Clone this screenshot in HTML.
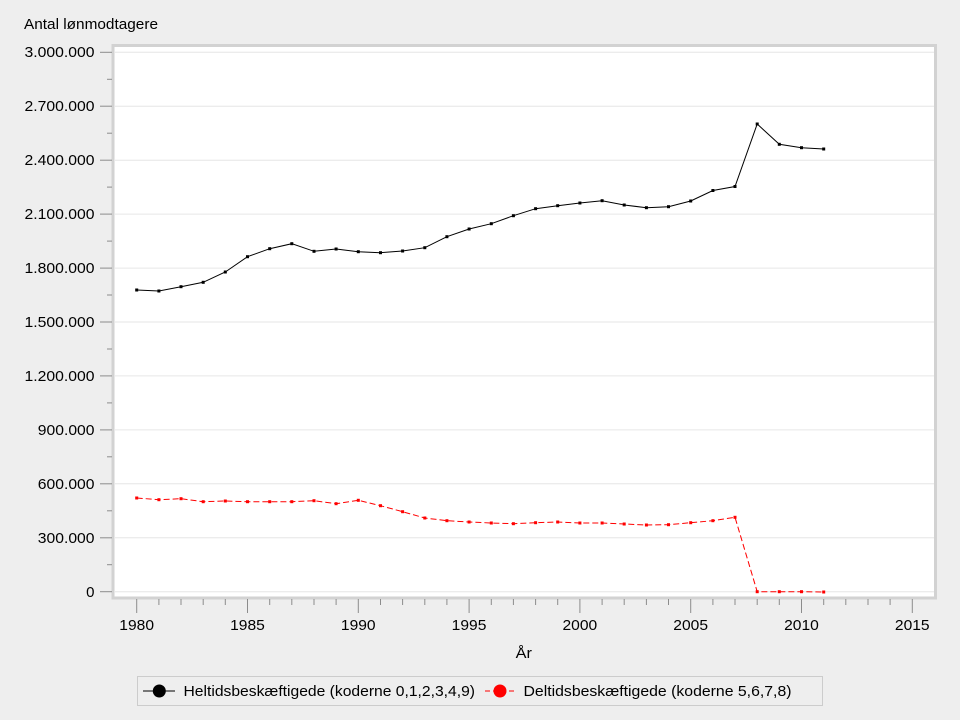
<!DOCTYPE html>
<html><head><meta charset="utf-8"><style>
html,body{margin:0;padding:0;background:#eeeeee;}
svg{display:block;font-family:"Liberation Sans",Arial,sans-serif;}
</style></head><body>
<svg width="960" height="720" viewBox="0 0 960 720" xmlns="http://www.w3.org/2000/svg">
<rect x="0" y="0" width="960" height="720" fill="#eeeeee"/>
<text x="24" y="29" font-size="15" fill="#000" textLength="134" lengthAdjust="spacingAndGlyphs">Antal lønmodtagere</text>
<!-- plot frame -->
<rect x="113" y="45.5" width="822.5" height="552.5" fill="#ffffff" stroke="#d2d2d2" stroke-width="3"/>
<!-- gridlines -->
<g stroke="#e6e6e6" stroke-width="1">
<line x1="115" x2="934" y1="591.7" y2="591.7"/>
<line x1="115" x2="934" y1="537.8" y2="537.8"/>
<line x1="115" x2="934" y1="483.8" y2="483.8"/>
<line x1="115" x2="934" y1="429.9" y2="429.9"/>
<line x1="115" x2="934" y1="375.9" y2="375.9"/>
<line x1="115" x2="934" y1="322.0" y2="322.0"/>
<line x1="115" x2="934" y1="268.1" y2="268.1"/>
<line x1="115" x2="934" y1="214.1" y2="214.1"/>
<line x1="115" x2="934" y1="160.2" y2="160.2"/>
<line x1="115" x2="934" y1="106.2" y2="106.2"/>
<line x1="115" x2="934" y1="52.3" y2="52.3"/>
</g>
<!-- y ticks -->
<g stroke="#8c8c8c" stroke-width="1">
<line x1="100" x2="112" y1="591.7" y2="591.7"/><line x1="107" x2="112" y1="564.7" y2="564.7"/>
<line x1="100" x2="112" y1="537.8" y2="537.8"/><line x1="107" x2="112" y1="510.8" y2="510.8"/>
<line x1="100" x2="112" y1="483.8" y2="483.8"/><line x1="107" x2="112" y1="456.8" y2="456.8"/>
<line x1="100" x2="112" y1="429.9" y2="429.9"/><line x1="107" x2="112" y1="402.9" y2="402.9"/>
<line x1="100" x2="112" y1="375.9" y2="375.9"/><line x1="107" x2="112" y1="349.0" y2="349.0"/>
<line x1="100" x2="112" y1="322.0" y2="322.0"/><line x1="107" x2="112" y1="295.0" y2="295.0"/>
<line x1="100" x2="112" y1="268.1" y2="268.1"/><line x1="107" x2="112" y1="241.1" y2="241.1"/>
<line x1="100" x2="112" y1="214.1" y2="214.1"/><line x1="107" x2="112" y1="187.1" y2="187.1"/>
<line x1="100" x2="112" y1="160.2" y2="160.2"/><line x1="107" x2="112" y1="133.2" y2="133.2"/>
<line x1="100" x2="112" y1="106.2" y2="106.2"/><line x1="107" x2="112" y1="79.3" y2="79.3"/>
<line x1="100" x2="112" y1="52.3" y2="52.3"/>
</g>
<g font-size="15" fill="#000" text-anchor="end">
<text x="94.5" y="597">0</text>
<text x="94.5" y="543" textLength="56.7" lengthAdjust="spacingAndGlyphs">300.000</text>
<text x="94.5" y="489" textLength="56.7" lengthAdjust="spacingAndGlyphs">600.000</text>
<text x="94.5" y="435" textLength="56.7" lengthAdjust="spacingAndGlyphs">900.000</text>
<text x="94.5" y="381" textLength="70" lengthAdjust="spacingAndGlyphs">1.200.000</text>
<text x="94.5" y="327" textLength="70" lengthAdjust="spacingAndGlyphs">1.500.000</text>
<text x="94.5" y="273" textLength="70" lengthAdjust="spacingAndGlyphs">1.800.000</text>
<text x="94.5" y="219" textLength="70" lengthAdjust="spacingAndGlyphs">2.100.000</text>
<text x="94.5" y="165" textLength="70" lengthAdjust="spacingAndGlyphs">2.400.000</text>
<text x="94.5" y="111" textLength="70" lengthAdjust="spacingAndGlyphs">2.700.000</text>
<text x="94.5" y="57" textLength="70" lengthAdjust="spacingAndGlyphs">3.000.000</text>
</g>
<!-- x ticks -->
<g stroke="#8c8c8c" stroke-width="1">
<line x1="136.7" x2="136.7" y1="599" y2="613"/>
<line x1="158.9" x2="158.9" y1="599" y2="605"/>
<line x1="181.0" x2="181.0" y1="599" y2="605"/>
<line x1="203.2" x2="203.2" y1="599" y2="605"/>
<line x1="225.3" x2="225.3" y1="599" y2="605"/>
<line x1="247.5" x2="247.5" y1="599" y2="613"/>
<line x1="269.7" x2="269.7" y1="599" y2="605"/>
<line x1="291.8" x2="291.8" y1="599" y2="605"/>
<line x1="314.0" x2="314.0" y1="599" y2="605"/>
<line x1="336.1" x2="336.1" y1="599" y2="605"/>
<line x1="358.3" x2="358.3" y1="599" y2="613"/>
<line x1="380.5" x2="380.5" y1="599" y2="605"/>
<line x1="402.6" x2="402.6" y1="599" y2="605"/>
<line x1="424.8" x2="424.8" y1="599" y2="605"/>
<line x1="446.9" x2="446.9" y1="599" y2="605"/>
<line x1="469.1" x2="469.1" y1="599" y2="613"/>
<line x1="491.3" x2="491.3" y1="599" y2="605"/>
<line x1="513.4" x2="513.4" y1="599" y2="605"/>
<line x1="535.6" x2="535.6" y1="599" y2="605"/>
<line x1="557.7" x2="557.7" y1="599" y2="605"/>
<line x1="579.9" x2="579.9" y1="599" y2="613"/>
<line x1="602.1" x2="602.1" y1="599" y2="605"/>
<line x1="624.2" x2="624.2" y1="599" y2="605"/>
<line x1="646.4" x2="646.4" y1="599" y2="605"/>
<line x1="668.5" x2="668.5" y1="599" y2="605"/>
<line x1="690.7" x2="690.7" y1="599" y2="613"/>
<line x1="712.9" x2="712.9" y1="599" y2="605"/>
<line x1="735.0" x2="735.0" y1="599" y2="605"/>
<line x1="757.2" x2="757.2" y1="599" y2="605"/>
<line x1="779.3" x2="779.3" y1="599" y2="605"/>
<line x1="801.5" x2="801.5" y1="599" y2="613"/>
<line x1="823.7" x2="823.7" y1="599" y2="605"/>
<line x1="845.8" x2="845.8" y1="599" y2="605"/>
<line x1="868.0" x2="868.0" y1="599" y2="605"/>
<line x1="890.1" x2="890.1" y1="599" y2="605"/>
<line x1="912.3" x2="912.3" y1="599" y2="613"/>
</g>
<g font-size="15" fill="#000">
<text x="119.3" y="630" textLength="34.7" lengthAdjust="spacingAndGlyphs">1980</text>
<text x="230.1" y="630" textLength="34.7" lengthAdjust="spacingAndGlyphs">1985</text>
<text x="340.9" y="630" textLength="34.7" lengthAdjust="spacingAndGlyphs">1990</text>
<text x="451.7" y="630" textLength="34.7" lengthAdjust="spacingAndGlyphs">1995</text>
<text x="562.5" y="630" textLength="34.7" lengthAdjust="spacingAndGlyphs">2000</text>
<text x="673.3" y="630" textLength="34.7" lengthAdjust="spacingAndGlyphs">2005</text>
<text x="784.1" y="630" textLength="34.7" lengthAdjust="spacingAndGlyphs">2010</text>
<text x="894.9" y="630" textLength="34.7" lengthAdjust="spacingAndGlyphs">2015</text>
<text x="515.7" y="658" textLength="16.3" lengthAdjust="spacingAndGlyphs">År</text>
</g>
<!-- black series -->
<polyline fill="none" stroke="#000" stroke-width="1" points="136.7,290 158.9,291 181.0,286.7 203.2,282.3 225.3,272 247.5,256.7 269.7,248.7 291.8,243.7 314.0,251.3 336.1,249 358.3,251.7 380.5,252.7 402.6,251 424.8,247.7 446.9,236.7 469.1,229 491.3,223.7 513.4,215.7 535.6,208.7 557.7,205.7 579.9,203 602.1,200.7 624.2,205 646.4,207.7 668.5,206.7 690.7,201 712.9,190.5 735.0,186.5 757.2,124 779.3,144.3 801.5,147.7 823.7,149"/>
<g fill="#000">
<rect x="135.2" y="288.5" width="3" height="3"/><rect x="157.4" y="289.5" width="3" height="3"/><rect x="179.5" y="285.2" width="3" height="3"/><rect x="201.7" y="280.8" width="3" height="3"/><rect x="223.8" y="270.5" width="3" height="3"/><rect x="246.0" y="255.2" width="3" height="3"/><rect x="268.2" y="247.2" width="3" height="3"/><rect x="290.3" y="242.2" width="3" height="3"/><rect x="312.5" y="249.8" width="3" height="3"/><rect x="334.6" y="247.5" width="3" height="3"/><rect x="356.8" y="250.2" width="3" height="3"/><rect x="379.0" y="251.2" width="3" height="3"/><rect x="401.1" y="249.5" width="3" height="3"/><rect x="423.3" y="246.2" width="3" height="3"/><rect x="445.4" y="235.2" width="3" height="3"/><rect x="467.6" y="227.5" width="3" height="3"/><rect x="489.8" y="222.2" width="3" height="3"/><rect x="511.9" y="214.2" width="3" height="3"/><rect x="534.1" y="207.2" width="3" height="3"/><rect x="556.2" y="204.2" width="3" height="3"/><rect x="578.4" y="201.5" width="3" height="3"/><rect x="600.6" y="199.2" width="3" height="3"/><rect x="622.7" y="203.5" width="3" height="3"/><rect x="644.9" y="206.2" width="3" height="3"/><rect x="667.0" y="205.2" width="3" height="3"/><rect x="689.2" y="199.5" width="3" height="3"/><rect x="711.4" y="189.0" width="3" height="3"/><rect x="733.5" y="185.0" width="3" height="3"/><rect x="755.7" y="122.5" width="3" height="3"/><rect x="777.8" y="142.8" width="3" height="3"/><rect x="800.0" y="146.2" width="3" height="3"/><rect x="822.2" y="147.5" width="3" height="3"/>
</g>
<!-- red series -->
<polyline fill="none" stroke="#ff0000" stroke-width="1" stroke-dasharray="6,3" points="136.7,498 158.9,499.7 181.0,498.7 203.2,501.7 225.3,501 247.5,501.7 269.7,501.7 291.8,501.7 314.0,500.7 336.1,503.7 358.3,500.3 380.5,505.7 402.6,511.7 424.8,518 446.9,520.7 469.1,522 491.3,523 513.4,523.7 535.6,522.7 557.7,522 579.9,523 602.1,523 624.2,524 646.4,525 668.5,524.7 690.7,522.7 712.9,520.7 735.0,517.3 757.2,591.7 779.3,591.7 801.5,591.7 823.7,592"/>
<g fill="#ff0000">
<rect x="135.2" y="496.5" width="3" height="3"/><rect x="157.4" y="498.2" width="3" height="3"/><rect x="179.5" y="497.2" width="3" height="3"/><rect x="201.7" y="500.2" width="3" height="3"/><rect x="223.8" y="499.5" width="3" height="3"/><rect x="246.0" y="500.2" width="3" height="3"/><rect x="268.2" y="500.2" width="3" height="3"/><rect x="290.3" y="500.2" width="3" height="3"/><rect x="312.5" y="499.2" width="3" height="3"/><rect x="334.6" y="502.2" width="3" height="3"/><rect x="356.8" y="498.8" width="3" height="3"/><rect x="379.0" y="504.2" width="3" height="3"/><rect x="401.1" y="510.2" width="3" height="3"/><rect x="423.3" y="516.5" width="3" height="3"/><rect x="445.4" y="519.2" width="3" height="3"/><rect x="467.6" y="520.5" width="3" height="3"/><rect x="489.8" y="521.5" width="3" height="3"/><rect x="511.9" y="522.2" width="3" height="3"/><rect x="534.1" y="521.2" width="3" height="3"/><rect x="556.2" y="520.5" width="3" height="3"/><rect x="578.4" y="521.5" width="3" height="3"/><rect x="600.6" y="521.5" width="3" height="3"/><rect x="622.7" y="522.5" width="3" height="3"/><rect x="644.9" y="523.5" width="3" height="3"/><rect x="667.0" y="523.2" width="3" height="3"/><rect x="689.2" y="521.2" width="3" height="3"/><rect x="711.4" y="519.2" width="3" height="3"/><rect x="733.5" y="515.8" width="3" height="3"/><rect x="755.7" y="590.2" width="3" height="3"/><rect x="777.8" y="590.2" width="3" height="3"/><rect x="800.0" y="590.2" width="3" height="3"/><rect x="822.2" y="590.5" width="3" height="3"/>
</g>
<!-- legend -->
<rect x="137.5" y="676.5" width="685" height="29" fill="#eeeeee" stroke="#cccccc" stroke-width="1"/>
<line x1="143" x2="175" y1="691" y2="691" stroke="#000" stroke-width="1"/>
<circle cx="159.3" cy="691" r="6.5" fill="#000"/>
<text x="183.5" y="696" font-size="15" fill="#000" textLength="291.5" lengthAdjust="spacingAndGlyphs">Heltidsbeskæftigede (koderne 0,1,2,3,4,9)</text>
<line x1="485" x2="515" y1="691" y2="691" stroke="#ff0000" stroke-width="1" stroke-dasharray="5,3"/>
<circle cx="500" cy="691" r="6.5" fill="#ff0000"/>
<text x="523.5" y="696" font-size="15" fill="#000" textLength="268" lengthAdjust="spacingAndGlyphs">Deltidsbeskæftigede (koderne 5,6,7,8)</text>
</svg>
</body></html>
